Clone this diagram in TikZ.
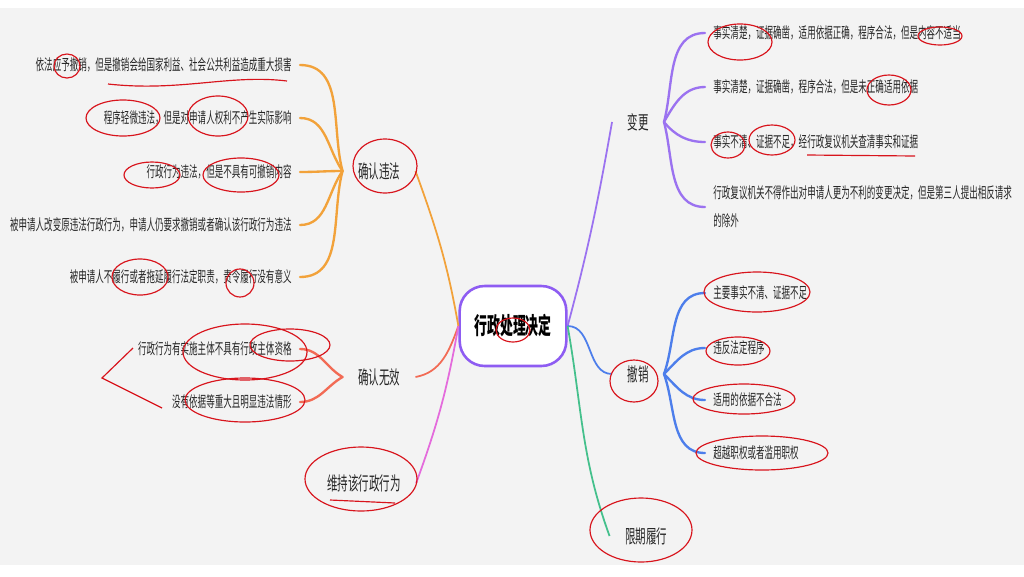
\documentclass[tikz,border=0pt]{standalone}
\usepackage{fontspec}
\setmainfont{Noto Sans CJK SC}
\usepackage{graphicx}
\newcommand{\sq}[2][0.56]{\scalebox{#1}[1]{#2}}

\definecolor{bgGray}{HTML}{F3F3F3}
\definecolor{rootPurple}{HTML}{8E5CF2}
\definecolor{wfOrange}{HTML}{F2A23A}
\definecolor{wxCoral}{HTML}{F26B55}
\definecolor{wcPink}{HTML}{E46BDC}
\definecolor{bgPurple}{HTML}{9B72F0}
\definecolor{cxBlue}{HTML}{4D7EEB}
\definecolor{lqGreen}{HTML}{44C08C}
\definecolor{annoRed}{HTML}{D8141C}

\tikzstyle{root} = [rectangle, draw=rootPurple, line width=2.2pt, fill=white,
     rounded corners=0.75cm, minimum width=3.2cm, minimum height=2.4cm,
     font=\fontsize{20}{22}\selectfont\bfseries]
\tikzstyle{branch} = [inner xsep=13pt, inner ysep=3pt, text=black!85, font=\fontsize{16}{18}\selectfont]
\tikzstyle{leafL} = [anchor=east, inner xsep=7pt, inner ysep=2pt, text=black!85, align=left, font=\fontsize{13}{15}\selectfont]
\tikzstyle{leafR} = [leafL, anchor=west]
\tikzstyle{line} = [draw, line width=1.5pt]
\tikzstyle{twig} = [draw, line width=2pt, line cap=round]
\tikzstyle{anno} = [draw=annoRed, line width=1pt]

\begin{document}
\begin{tikzpicture}[x=0.03cm, y=0.03cm]
    \useasboundingbox (0,0) rectangle (1024,-576);
    \fill [white] (0,0) rectangle (1024,-576);
    \fill [bgGray] (0,-8) rectangle (1024,-565);

    % Place nodes
    \node [root] (decision) at (513,-326) {\sq[0.55]{行政处理决定}};

    \node [branch] (confirmIllegal) at (379,-171) {\sq{确认违法}};
    \node [branch] (confirmVoid) at (379,-377) {\sq{确认无效}};
    \node [branch] (uphold) at (364,-483) {\sq{维持该行政行为}};
    \node [branch] (modify) at (638,-122) {\sq{变更}};
    \node [branch] (revoke) at (638,-374) {\sq{撤销}};
    \node [branch] (deadline) at (646,-536) {\sq{限期履行}};

    \node [leafL] (w1) at (300,-65) {\sq{依法应予撤销，但是撤销会给国家利益、社会公共利益造成重大损害}};
    \node [leafL] (w2) at (300,-118) {\sq{程序轻微违法，但是对申请人权利不产生实际影响}};
    \node [leafL] (w3) at (300,-172) {\sq{行政行为违法，但是不具有可撤销内容}};
    \node [leafL] (w4) at (300,-225) {\sq{被申请人改变原违法行政行为，申请人仍要求撤销或者确认该行政行为违法}};
    \node [leafL] (w5) at (300,-277) {\sq{被申请人不履行或者拖延履行法定职责，责令履行没有意义}};

    \node [leafL] (v1) at (300,-349) {\sq{行政行为有实施主体不具有行政主体资格}};
    \node [leafL] (v2) at (300,-402) {\sq{没有依据等重大且明显违法情形}};

    \node [leafR] (m1) at (705,-33) {\sq{事实清楚，证据确凿，适用依据正确，程序合法，但是内容不适当}};
    \node [leafR] (m2) at (705,-87) {\sq{事实清楚，证据确凿，程序合法，但是未正确适用依据}};
    \node [leafR] (m3) at (705,-142) {\sq{事实不清、证据不足，经行政复议机关查清事实和证据}};
    \node [leafR] (m4) at (705,-207) {\sq{行政复议机关不得作出对申请人更为不利的变更决定，但是第三人提出相反请求}\\[9pt]\sq{的除外}};

    \node [leafR] (r1) at (705,-293) {\sq{主要事实不清、证据不足}};
    \node [leafR] (r2) at (705,-348) {\sq{违反法定程序}};
    \node [leafR] (r3) at (705,-400) {\sq{适用的依据不合法}};
    \node [leafR] (r4) at (705,-453) {\sq{超越职权或者滥用职权}};

    % Draw edges
    \path [line, wfOrange] (decision.west) to[out=100,in=-70] (confirmIllegal.east);
    \path [line, wxCoral] (decision.west) to[out=-110,in=10] (confirmVoid.east);
    \path [line, wcPink] (decision.west) to[out=-100,in=70] (uphold.east);
    \path [line, bgPurple] (decision.east) to[out=75,in=-100] (modify.west);
    \path [line, cxBlue] (decision.east) to[out=0,in=180] (revoke.west);
    \path [line, lqGreen] (decision.east) to[out=-80,in=110] (deadline.west);

    \foreach \leaf/\ang in {w1/105, w2/125, w3/180, w4/235, w5/255}
        \path [twig, wfOrange] (confirmIllegal.west) to[out=\ang,in=0] (\leaf.east);
    \foreach \leaf/\ang in {v1/150, v2/210}
        \path [twig, wxCoral] (confirmVoid.west) to[out=\ang,in=0] (\leaf.east);
    \foreach \leaf/\ang in {m1/75, m2/60, m3/-50, m4/-75}
        \path [twig, bgPurple] (modify.east) to[out=\ang,in=180] (\leaf.west);
    \foreach \leaf/\ang in {r1/70, r2/45, r3/-45, r4/-70}
        \path [twig, cxBlue] (revoke.east) to[out=\ang,in=180] (\leaf.west);

    % red pen marks
    \foreach \cx/\cy/\rx/\ry in {385/166/32/27, 634/381/24/21, 361/479/56/32, 641/530/51/32,
        757/292/53/20, 738/351/32/14, 744/399/51/15, 762/453/66/17, 513/330/17/12,
        67/66/13/12, 123/118/37/18, 218/116/30/20, 152/175/28/13, 241/175/38/17,
        140/277/28/18, 240/283/14/14, 740/42/32/18, 940/36/22/9, 889/90/22/15,
        728/145/17/13, 772/140/23/15, 245/352/62/28, 290/345/40/16, 245/400/60/22}
        \draw [anno] (\cx,-\cy) ellipse ({\rx} and {\ry});
    \draw [anno] (108,-84) .. controls (180,-92) and (230,-74) .. (287,-81);
    \draw [anno] (807,-155) -- (915,-156);
    \draw [anno] (330,-500) -- (395,-503);
    \draw [anno] (133,-348) -- (102,-378) -- (162,-408);
\end{tikzpicture}
\end{document}
